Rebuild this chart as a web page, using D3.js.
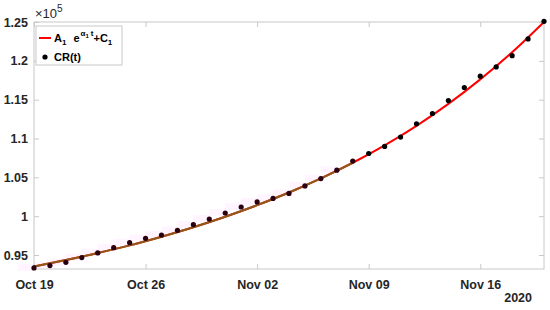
<!DOCTYPE html>
<html><head><meta charset="utf-8">
<script src="https://cdn.jsdelivr.net/npm/d3@7"></script>
<style>body{margin:0;background:#fff}svg{display:block}text{font-family:"Liberation Sans",Arial,sans-serif}</style>
</head><body><svg id="c" width="550" height="310"></svg>
<script>
// Data (values in units of 1e5)
const startDate = "2020-10-19";
const days = d3.range(0, 33);
const crValues = [0.9334,0.9364,0.9406,0.9467,0.9527,0.9595,0.9659,0.9715,0.9758,0.9818,
  0.9891,0.9964,1.0041,1.0118,1.0183,1.0229,1.0293,1.0390,1.0484,1.0592,
  1.0709,1.0807,1.0898,1.1018,1.1189,1.1322,1.1489,1.1656,1.1802,1.1922,
  1.2067,1.2282,1.2509];
const fitDays = [0,2,4,6,8,10,12,14,16,18,20,22,24,26,28,30,32];
const fitValues = [0.9352,0.9435,0.9525,0.9624,0.9736,0.9858,0.9993,1.0142,1.0305,1.0487,
  1.0688,1.0912,1.1163,1.1446,1.1761,1.2111,1.2501];
const earlyFitEnd = 20;
const yTicks = [0.95,1,1.05,1.1,1.15,1.2,1.25];
const yTickLabels = ["0.95","1","1.05","1.1","1.15","1.2","1.25"];
const xTickDays = [0,7,14,21,28];
const xTickLabels = ["Oct 19","Oct 26","Nov 02","Nov 09","Nov 16"];

const svg = d3.select("#c");
const L=34, R=544, T=22, B=269;
const t0 = new Date(2020,9,19);
const dayDate = d => d3.timeDay.offset(t0, d);
const x = d3.scaleTime().domain([dayDate(0), dayDate(32)]).range([L,R]);
const y = d3.scaleLinear().domain([0.932,1.25]).range([B,T]);

const axisCol = "#c8c8c8", txtCol = "#262626";

// faint pink band around early data
const bandData = days.filter(d => d <= earlyFitEnd).map(d => ({d, v: crValues[d]}));
svg.append("path").datum(bandData)
  .attr("d", d3.area().curve(d3.curveStepAfter)
    .x(p => x(dayDate(p.d - 1))).y0(p => y(p.v - 0.004)).y1(p => y(p.v + 0.005)))
  .attr("fill", "rgba(255,0,255,0.045)");

// axes box
svg.append("rect").attr("x",L).attr("y",T).attr("width",R-L).attr("height",B-T)
  .attr("fill","none").attr("stroke",axisCol).attr("stroke-width",1);

// x axis
const xa = d3.axisBottom(x).tickValues(xTickDays.map(dayDate))
  .tickFormat((d,i) => xTickLabels[i]).tickSizeInner(-5).tickSizeOuter(0).tickPadding(11);
const gx = svg.append("g").attr("transform",`translate(0,${B})`).call(xa);
const xt = d3.axisTop(x).tickValues(xTickDays.map(dayDate)).tickFormat("").tickSizeInner(-5).tickSizeOuter(0);
const gxt = svg.append("g").attr("transform",`translate(0,${T})`).call(xt);
// y axis
const ya = d3.axisLeft(y).tickValues(yTicks).tickFormat((d,i)=>yTickLabels[i])
  .tickSizeInner(-5).tickSizeOuter(0).tickPadding(5);
const gy = svg.append("g").attr("transform",`translate(${L},0)`).call(ya);
const yr = d3.axisRight(y).tickValues(yTicks).tickFormat("").tickSizeInner(-5).tickSizeOuter(0);
const gyr = svg.append("g").attr("transform",`translate(${R},0)`).call(yr);
[gx,gxt,gy,gyr].forEach(g=>{
  g.select(".domain").remove();
  g.selectAll(".tick line").attr("stroke",axisCol);
  g.selectAll("text").attr("fill",txtCol).attr("font-size",12.5).attr("font-weight","bold");
});
gy.selectAll("text").attr("dx",-1);

svg.append("text").attr("x",R-12).attr("y",302).attr("text-anchor","end")
  .attr("font-size",12.5).attr("font-weight","bold").attr("fill",txtCol).text("2020");

// exponent
const ex = svg.append("text").attr("x",35).attr("y",18).attr("font-size",13).attr("fill",txtCol);
ex.append("tspan").text("\u00d710");
ex.append("tspan").attr("dy",-6).attr("font-size",10).text("5");

// fit line
const fitPts = fitDays.map((d,i)=>({d, v: fitValues[i]}));
const line = d3.line().curve(d3.curveMonotoneX).x(p=>x(dayDate(p.d))).y(p=>y(p.v));
svg.append("path").datum(fitPts).attr("d",line).attr("fill","none")
  .attr("stroke","#ff0000").attr("stroke-width",2);
svg.append("path").datum(fitPts.filter(p=>p.d<=earlyFitEnd)).attr("d",line).attr("fill","none")
  .attr("stroke","#8e5a1a").attr("stroke-width",2);

// points
svg.append("g").selectAll("circle").data(days).join("circle")
  .attr("cx",d=>x(dayDate(d))).attr("cy",d=>y(crValues[d])).attr("r",2.6)
  .attr("fill",d=> d<=earlyFitEnd ? "#2a0010" : "#000");

// legend
const lg = svg.append("g");
lg.append("rect").attr("x",36).attr("y",26).attr("width",86).attr("height",39)
  .attr("fill","#fff").attr("stroke",axisCol);
lg.append("line").attr("x1",39).attr("x2",51).attr("y1",38).attr("y2",38)
  .attr("stroke","#ff0000").attr("stroke-width",2);
const t1 = lg.append("text").attr("x",54).attr("y",42).attr("font-size",11)
  .attr("font-weight","bold").attr("fill","#000");
t1.append("tspan").text("A");
t1.append("tspan").attr("dy",3).attr("font-size",8).text("1");
t1.append("tspan").attr("dy",-3).attr("dx",7).text("e");
t1.append("tspan").attr("dy",-6).attr("dx",1).attr("font-size",8).text("\u03b1");
t1.append("tspan").attr("dy",2).attr("font-size",6).text("1");
t1.append("tspan").attr("dy",-2).attr("dx",2).attr("font-size",8).text("t");
t1.append("tspan").attr("dy",6).text("+C");
t1.append("tspan").attr("dy",3).attr("font-size",8).text("1");
lg.append("circle").attr("cx",45).attr("cy",57).attr("r",2.6).attr("fill","#000");
lg.append("text").attr("x",54).attr("y",61).attr("font-size",11).attr("font-weight","bold")
  .attr("fill","#000").text("CR(t)");
</script></body></html>
